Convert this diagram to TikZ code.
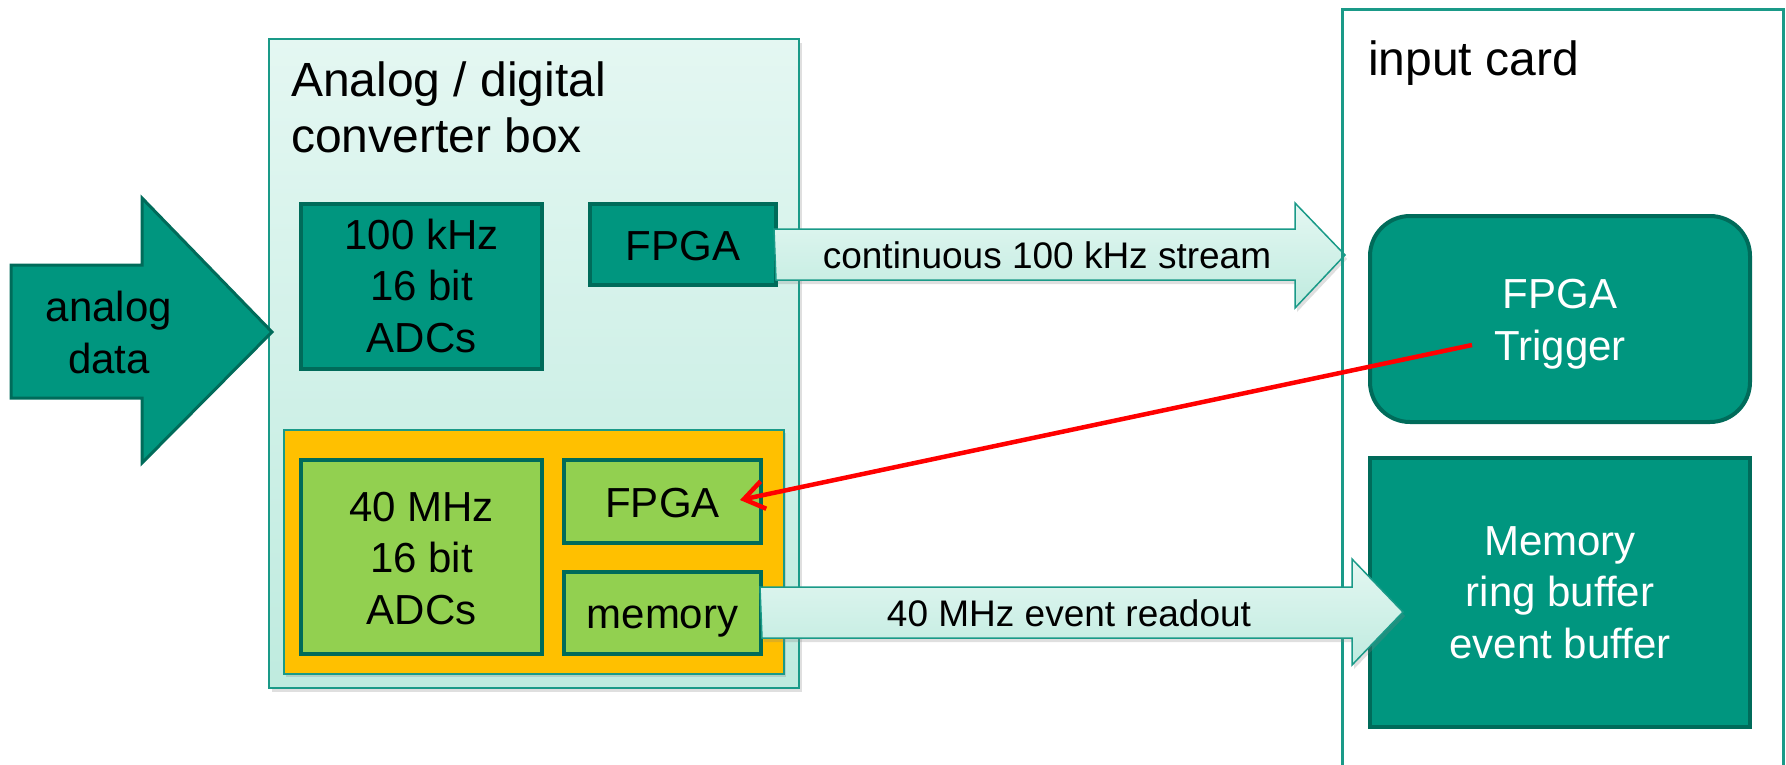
\documentclass[tikz,border=0pt]{standalone}
\usepackage{fontspec}
\setmainfont{Liberation Sans}
\usetikzlibrary{arrows.meta,shadows}

\definecolor{tealfill}{HTML}{00967F}
\definecolor{tealdark}{HTML}{006B5A}
\definecolor{tealline}{HTML}{1A9A88}
\definecolor{mintTop}{HTML}{E4F7F2}
\definecolor{mintBot}{HTML}{BFEBDF}
\definecolor{lgreen}{HTML}{92D050}
\definecolor{amber}{HTML}{FFC000}

\tikzset{
  % labels are placed by the baseline of their last line
  boxtext/.style={font=\fontsize{42}{51.5}\selectfont, align=center,
    inner sep=0pt, anchor=base},
  whitetext/.style={boxtext, text=white},
  tealbox/.style={draw=tealdark, fill=tealfill, line width=4pt, inner sep=0pt},
  greenbox/.style={tealbox, fill=lgreen},
  blockarrow/.style={draw=tealline, line width=1.5pt, top color=mintTop,
    bottom color=mintBot,
    drop shadow={shadow xshift=2pt, shadow yshift=-4pt, opacity=0.25}},
  arrowlabel/.style={font=\fontsize{37}{44}\selectfont, anchor=base},
  titletext/.style={font=\fontsize{48}{56}\selectfont, align=left,
    inner sep=0pt, anchor=base west},
  triggerline/.style={draw=red, line width=4.5pt,
    -{Straight Barb[length=20pt,width=28pt]}}
}

\begin{document}
\begin{tikzpicture}[x=1pt,y=-1pt]
\useasboundingbox (0,0) rectangle (1786,764);

% converter box
\path[draw=tealline, line width=2pt, top color=mintTop, bottom color=mintBot,
  drop shadow={shadow xshift=3pt, shadow yshift=-4pt, opacity=0.25}]
  (269,39) rectangle (799,688);
\node[titletext] (convtitle) at (291,152) {Analog / digital\\converter box};

% fast section
\path[draw=tealline, line width=1.5pt, fill=amber,
  drop shadow={shadow xshift=2pt, shadow yshift=-3pt, opacity=0.25}]
  (284,430) rectangle (784,674);

% analog input arrow
\path[draw=tealdark, fill=tealfill, line width=3pt]
  (11,265) -- (142,265) -- (142,198) -- (272,332) -- (142,463)
  -- (142,398) -- (11,398) -- cycle;
\node[boxtext] (analog) at (109,373) {analog\\data};

% slow section
\node[tealbox, minimum width=186pt, minimum height=81pt] (fpgaA) at (683,244.5) {};
\node[boxtext] (fpgaAtext) at (683,260) {FPGA};
\node[tealbox, minimum width=241pt, minimum height=165pt] (adcA) at (421.5,286.5) {};
\node[boxtext] (adcAtext) at (421.5,352) {100 kHz\\16 bit\\ADCs};

% continuous stream arrow
\path[blockarrow] (fpgaA.east) ++(-4,-15.5) coordinate (sA)
  -- (1295,229) -- (1295,203) -- (1345,255) -- (1295,308) -- (1295,280)
  -- (776,280) -- cycle;
\node[arrowlabel] (streamlbl) at (1047,268) {continuous 100 kHz stream};

% fast section contents
\node[greenbox, minimum width=241pt, minimum height=194pt] (adcB) at (421.5,557) {};
\node[boxtext] (adcBtext) at (421.5,624) {40 MHz\\16 bit\\ADCs};
\node[greenbox, minimum width=197pt, minimum height=83pt] (fpgaB) at (662.5,501.5) {};
\node[boxtext] (fpgaBtext) at (662.5,517) {FPGA};
\node[greenbox, minimum width=197pt, minimum height=82pt] (memA) at (662.5,613) {};
\node[boxtext] (memAtext) at (662.5,628) {memory};

% input card
\draw[tealline, line width=3pt] (1342,9) rectangle (1783,790);
\node[titletext] (cardtitle) at (1368,75.5) {input card};

\node[tealbox, rounded corners=40pt, minimum width=380pt,
  minimum height=206pt] (trig) at (1560,319) {};
\node[whitetext] (trigtext) at (1560,360) {FPGA\\Trigger};
\node[tealbox, minimum width=380pt, minimum height=269pt] (memB) at (1560,592.5) {};
\node[whitetext] (memBtext) at (1560,658) {Memory\\ring buffer\\event buffer};

% event readout arrow
\path[blockarrow] (memA.east) ++(-3,-26) coordinate (sB)
  -- (1352,587) -- (1352,559) -- (1403,612) -- (1352,665) -- (1352,638)
  -- (762,638) -- cycle;
\node[arrowlabel] (readlbl) at (1069,626) {40 MHz event readout};

% trigger signal
\coordinate (trigout) at (1472,345);
\coordinate (fpgain) at (740,500);
\draw[triggerline] (trigout) -- (fpgain);
\end{tikzpicture}
\end{document}
